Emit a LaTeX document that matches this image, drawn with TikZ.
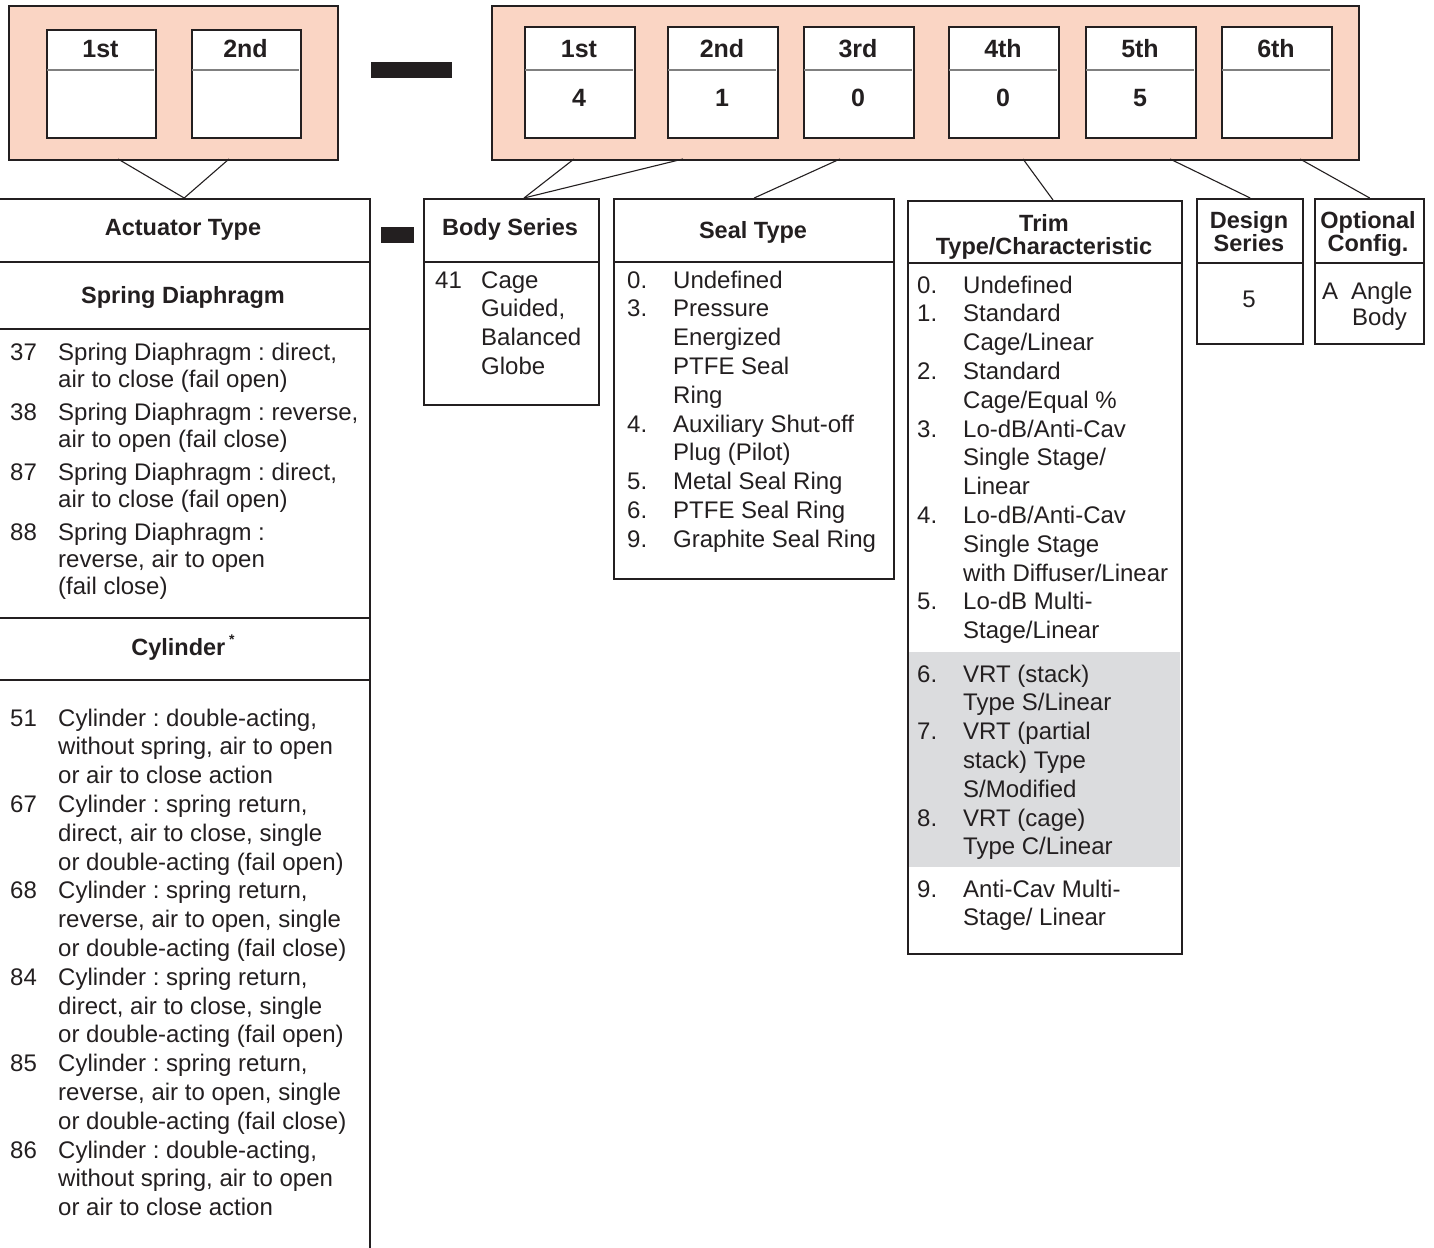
\documentclass[tikz,border=0pt]{standalone}
\usepackage{fontspec}
\setmainfont{Liberation Sans}
\frenchspacing
\definecolor{ink}{RGB}{35,31,32}
\definecolor{peach}{RGB}{250,213,196}
\definecolor{band}{RGB}{219,220,222}
\definecolor{celldiv}{RGB}{128,128,128}
\newcommand\lsk{28.8}
\newcommand\codeentry[6]{%
  \node[txt,anchor=base west] (#1) at (#2,#4) {#5};
  \foreach \t [count=\k from 0] in {#6}{%
    \node[txt,anchor=base west] (#1-\k) at (#3,{#4+\k*\lsk}) {\t};}%
}
\begin{document}
\begin{tikzpicture}[x=1pt,y=-1pt,
  txt/.style={inner sep=0pt, text=ink, font=\fontsize{24}{28.8}\selectfont},
  hdr/.style={inner sep=0pt, text=ink, font=\bfseries\fontsize{23.5}{23}\selectfont},
  toplab/.style={inner sep=0pt, text=ink, font=\bfseries\fontsize{25}{25}\selectfont},
  tbl/.style={draw=ink, line width=2.4pt, inner sep=0pt, anchor=north west},
  pinkbox/.style={draw=ink, fill=peach, line width=2.4pt, inner sep=0pt, anchor=north west},
  cell/.style={draw=ink, fill=white, line width=2pt, inner sep=0pt, anchor=north west},
  cdiv/.style={draw=celldiv, line width=1.5pt},
  tdiv/.style={draw=ink, line width=1.6pt},
  conn/.style={draw=ink, line width=1.1pt},
  bar/.style={fill=ink, draw=none, inner sep=0pt, anchor=north west}
]
\useasboundingbox (0,0) rectangle (1434,1247);

% ---------- top code boxes ----------
\node[pinkbox, minimum width=329pt, minimum height=154pt] (lp) at (8,5) {};
\foreach \n/\x/\lab in {1/46/1st, 2/191/2nd}{
  \node[cell, minimum width=109pt, minimum height=108pt] (lc\n) at (\x,29) {};
  \draw[cdiv] (\x+1,70) -- (\x+108,70);
  \node[toplab, anchor=base] (lc\n l) at (\x+54.5,57) {\lab};
}
\node[bar, minimum width=81pt, minimum height=16pt] (dash1) at (371,62) {};

\node[pinkbox, minimum width=867pt, minimum height=154pt] (rp) at (491,5) {};
\foreach \n/\x/\lab/\val in {1/524/1st/4, 2/667/2nd/1, 3/803/3rd/0, 4/948/4th/0, 5/1085/5th/5, 6/1221/6th/}{
  \node[cell, minimum width=110pt, minimum height=111pt] (rc\n) at (\x,26) {};
  \draw[cdiv] (\x+1,70) -- (\x+109,70);
  \node[toplab, anchor=base] (rc\n l) at (\x+55,57) {\lab};
  \node[toplab, anchor=base] (rc\n v) at (\x+55,106) {\val};
}

% ---------- tables ----------
\node[tbl, minimum width=372pt, minimum height=1070pt] (act) at (-3,198) {};
\node[bar, minimum width=33pt, minimum height=16pt] (dash2) at (381,227) {};
\node[tbl, minimum width=175pt, minimum height=206pt] (body) at (423,198) {};
\node[tbl, minimum width=280pt, minimum height=380pt] (seal) at (613,198) {};
\fill[band] (908,652) rectangle (1180,867);
\node[tbl, minimum width=274pt, minimum height=753pt] (trim) at (907,200) {};
\node[tbl, minimum width=106pt, minimum height=145pt] (des) at (1196,198) {};
\node[tbl, minimum width=109pt, minimum height=145pt] (opt) at (1314,198) {};

% dividers
\draw[tdiv] (-3,262) -- (369,262);
\draw[tdiv] (-3,329) -- (369,329);
\draw[tdiv] (-3,618) -- (369,618);
\draw[tdiv] (-3,680) -- (369,680);
\draw[tdiv] (423,262) -- (598,262);
\draw[tdiv] (613,262) -- (893,262);
\draw[tdiv] (907,263) -- (1181,263);
\draw[tdiv] (1196,263) -- (1302,263);
\draw[tdiv] (1314,263) -- (1423,263);

% connectors
\coordinate (lpA) at (118,159);
\coordinate (lpB) at (229,159);
\coordinate (rpA) at (574,159);
\coordinate (rpB) at (683,159);
\coordinate (rpC) at (840,159);
\coordinate (rpD) at (1023,159);
\coordinate (rpE) at (1170,159);
\coordinate (rpF) at (1300,159);
\coordinate (bodyT) at (524,198);
\coordinate (trimT) at (1053,200);
\draw[conn] (lpA) -- (act.north);
\draw[conn] (lpB) -- (act.north);
\draw[conn] (rpA) -- (bodyT);
\draw[conn] (rpB) -- (bodyT);
\draw[conn] (rpC) -- (seal.north);
\draw[conn] (rpD) -- (trimT);
\draw[conn] (rpE) -- (des.north);
\draw[conn] (rpF) -- (opt.north);

% headers
\node[hdr, anchor=base] (acth) at (183,235) {Actuator Type};
\node[hdr, anchor=base] (sprh) at (183,303) {Spring Diaphragm};
\node[hdr, anchor=base] (cylh) at (183,655) {Cylinder\,\raisebox{0.45em}{\fontsize{14}{14}\selectfont *}};
\node[hdr, anchor=base] (bodyh) at (510,235) {Body Series};
\node[hdr, anchor=base] (sealh) at (753,238) {Seal Type};
\node[hdr, anchor=base] (trimh1) at (1044,231) {Trim};
\node[hdr, anchor=base] (trimh2) at (1044,254) {Type/Characteristic};
\node[hdr, anchor=base] (desh1) at (1249,228) {Design};
\node[hdr, anchor=base] (desh2) at (1249,251) {Series};
\node[hdr, anchor=base] (opth1) at (1368,228) {Optional};
\node[hdr, anchor=base] (opth2) at (1368,251) {Config.};

% actuator entries
\renewcommand\lsk{27.3}
\codeentry{a37}{10}{58}{360}{37}{{Spring Diaphragm : direct,},{air to close (fail open)}}
\codeentry{a38}{10}{58}{420}{38}{{Spring Diaphragm : reverse,},{air to open (fail close)}}
\codeentry{a87}{10}{58}{480}{87}{{Spring Diaphragm : direct,},{air to close (fail open)}}
\codeentry{a88}{10}{58}{540}{88}{{Spring Diaphragm :},{reverse, air to open},{(fail close)}}
\renewcommand\lsk{28.8}
\codeentry{a51}{10}{58}{726}{51}{{Cylinder : double-acting,},{without spring, air to open},{or air to close action}}
\codeentry{a67}{10}{58}{812.4}{67}{{Cylinder : spring return,},{direct, air to close, single},{or double-acting (fail open)}}
\codeentry{a68}{10}{58}{898.8}{68}{{Cylinder : spring return,},{reverse, air to open, single},{or double-acting (fail close)}}
\codeentry{a84}{10}{58}{985.2}{84}{{Cylinder : spring return,},{direct, air to close, single},{or double-acting (fail open)}}
\codeentry{a85}{10}{58}{1071.6}{85}{{Cylinder : spring return,},{reverse, air to open, single},{or double-acting (fail close)}}
\codeentry{a86}{10}{58}{1158}{86}{{Cylinder : double-acting,},{without spring, air to open},{or air to close action}}

% body series
\codeentry{b41}{435}{481}{288}{41}{{Cage},{Guided,},{Balanced},{Globe}}

% seal type
\codeentry{s0}{627}{673}{288}{0.}{{Undefined}}
\codeentry{s3}{627}{673}{316.8}{3.}{{Pressure},{Energized},{PTFE Seal},{Ring}}
\codeentry{s4}{627}{673}{432}{4.}{{Auxiliary Shut-off},{Plug (Pilot)}}
\codeentry{s5}{627}{673}{489.6}{5.}{{Metal Seal Ring}}
\codeentry{s6}{627}{673}{518.4}{6.}{{PTFE Seal Ring}}
\codeentry{s9}{627}{673}{547.2}{9.}{{Graphite Seal Ring}}

% trim type
\codeentry{t0}{917}{963}{293}{0.}{{Undefined}}
\codeentry{t1}{917}{963}{321.8}{1.}{{Standard},{Cage/Linear}}
\codeentry{t2}{917}{963}{379.4}{2.}{{Standard},{Cage/Equal \%}}
\codeentry{t3}{917}{963}{437}{3.}{{Lo-dB/Anti-Cav},{Single Stage/},{Linear}}
\codeentry{t4}{917}{963}{523.4}{4.}{{Lo-dB/Anti-Cav},{Single Stage},{with Diffuser/Linear}}
\codeentry{t5}{917}{963}{609.8}{5.}{{Lo-dB Multi-},{Stage/Linear}}
\codeentry{t6}{917}{963}{682}{6.}{{VRT (stack)},{Type S/Linear}}
\codeentry{t7}{917}{963}{739.6}{7.}{{VRT (partial},{stack) Type},{S/Modified}}
\codeentry{t8}{917}{963}{826}{8.}{{VRT (cage)},{Type C/Linear}}
\codeentry{t9}{917}{963}{897}{9.}{{Anti-Cav Multi-},{Stage/ Linear}}

% design series / optional config
\node[txt, anchor=base] (d5) at (1249,307) {5};
\node[txt, anchor=base west] (oA) at (1322,299) {A};
\node[txt, anchor=base west] (oA1) at (1351,299) {Angle};
\node[txt, anchor=base west] (oA2) at (1352,325) {Body};
\end{tikzpicture}
\end{document}
